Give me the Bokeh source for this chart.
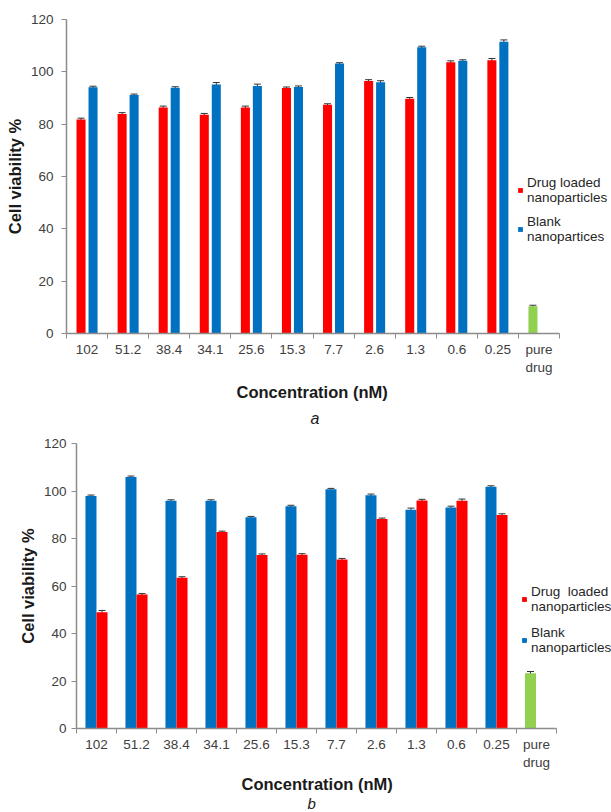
from bokeh.plotting import figure
from bokeh.models import (Range1d, FixedTicker, ColumnDataSource, Whisker, TeeHead,
                          Legend, LegendItem, Title)
from bokeh.embed import file_html
from bokeh.resources import INLINE

# ---------------- data ----------------
categories = ["102", "51.2", "38.4", "34.1", "25.6", "15.3", "7.7", "2.6", "1.3", "0.6", "0.25", "pure\ndrug"]

a_drug = [81.8, 83.9, 86.4, 83.6, 86.4, 93.8, 87.4, 96.5, 89.7, 103.7, 104.4]
a_blank = [94.1, 91.1, 93.9, 95.2, 94.6, 94.2, 103.2, 96.0, 109.4, 104.2, 111.5]
a_pure = [10.4]
a_drug_err = [0.5, 0.5, 0.5, 0.5, 0.5, 0.4, 0.4, 0.5, 0.5, 0.5, 0.7]
a_blank_err = [0.4, 0.4, 0.4, 0.7, 0.7, 0.4, 0.3, 0.6, 0.4, 0.4, 0.7]
a_pure_err = [0.4]

b_blank = [97.9, 105.9, 95.9, 95.9, 88.9, 93.6, 100.7, 98.2, 92.1, 93.1, 101.8]
b_drug = [49.0, 56.4, 63.5, 82.7, 73.1, 73.2, 71.2, 88.2, 96.0, 95.9, 89.9]
b_pure = [23.3]
b_blank_err = [0.4, 0.4, 0.4, 0.4, 0.4, 0.4, 0.4, 0.5, 0.7, 0.5, 0.4]
b_drug_err = [0.7, 0.4, 0.4, 0.4, 0.4, 0.4, 0.4, 0.4, 0.5, 0.7, 0.5]
b_pure_err = [0.7]

y_ticks = [0, 20, 40, 60, 80, 100, 120]

RED = "#FF0000"
BLUE = "#0070C0"
GREEN = "#92D050"
FONT = "Liberation Sans"
AXIS_GRAY = "#8C8C8C"
TICK_TXT = "#404040"
TITLE_COL = "#1A1A1A"
N = len(categories)


def base_fig(height, left, top, bottom, x_end, ylab_standoff, ytick_standoff):
    p = figure(width=611, height=height, output_backend="svg", toolbar_location=None,
               x_range=Range1d(0, x_end), y_range=Range1d(0, 120),
               min_border_left=left, min_border_right=0,
               min_border_top=top, min_border_bottom=bottom,
               outline_line_color=None, background_fill_color="white",
               border_fill_color="white")
    p.grid.visible = False
    centers = [i + 0.5 for i in range(N)]
    bounds = [float(i) for i in range(N + 1)]
    p.xaxis.ticker = FixedTicker(ticks=centers, minor_ticks=bounds)
    p.xaxis.bounds = (0, N)
    p.xaxis.major_label_overrides = {c: lab for c, lab in zip(centers, categories)}
    p.xaxis.major_tick_out = 0
    p.xaxis.major_tick_in = 0
    p.xaxis.minor_tick_out = 5
    p.xaxis.minor_tick_in = 0
    p.xaxis.major_label_standoff = 3
    p.yaxis.ticker = FixedTicker(ticks=y_ticks, minor_ticks=[])
    p.yaxis.major_tick_out = 5
    p.yaxis.major_tick_in = 0
    p.yaxis.major_label_standoff = ytick_standoff
    for ax in (p.xaxis, p.yaxis):
        ax.axis_line_color = AXIS_GRAY
        ax.axis_line_width = 1.5
        ax.major_tick_line_color = AXIS_GRAY
        ax.minor_tick_line_color = AXIS_GRAY
        ax.major_label_text_font = FONT
        ax.major_label_text_font_size = "13.5px"
        ax.major_label_text_color = TICK_TXT
    p.yaxis.axis_label = "Cell viability %"
    p.yaxis.axis_label_text_font = FONT
    p.yaxis.axis_label_text_font_style = "bold"
    p.yaxis.axis_label_text_font_size = "16.5px"
    p.yaxis.axis_label_text_color = TITLE_COL
    p.yaxis.axis_label_standoff = ylab_standoff
    return p


def add_xtitle(p, offset, standoff):
    p.add_layout(Title(text="Concentration (nM)", align="left", offset=offset,
                       standoff=standoff, text_font=FONT, text_font_style="bold",
                       text_font_size="16.5px", text_color=TITLE_COL), "below")


def add_panel_label(p, text, offset, standoff, size):
    p.add_layout(Title(text=text, align="left", offset=offset, standoff=standoff,
                       text_font=FONT, text_font_style="italic", text_font_size=size,
                       text_color=TITLE_COL), "below")


def add_series(p, values, errs, offset, width, color):
    xs = [i + 0.5 + offset for i in range(len(values))]
    src = ColumnDataSource(dict(x=xs, top=values,
                                upper=[v + e for v, e in zip(values, errs)],
                                lower=[v - e for v, e in zip(values, errs)]))
    r = p.vbar(x="x", top="top", width=width, bottom=0, source=src,
               fill_color=color, line_color=None)
    p.add_layout(Whisker(base="x", upper="upper", lower="lower", source=src,
                         line_color="#333333", line_width=1,
                         upper_head=TeeHead(size=7, line_color="#333333", line_width=1),
                         lower_head=None))
    return r


def add_pure(p, value, err, offset, width):
    xs = [N - 0.5 + offset]
    src = ColumnDataSource(dict(x=xs, top=value,
                                upper=[v + e for v, e in zip(value, err)],
                                lower=[v - e for v, e in zip(value, err)]))
    p.vbar(x="x", top="top", width=width, bottom=0, source=src,
           fill_color=GREEN, line_color=None)
    p.add_layout(Whisker(base="x", upper="upper", lower="lower", source=src,
                         line_color="#333333",
                         upper_head=TeeHead(size=7, line_color="#333333"),
                         lower_head=None))


def make_legend(items, x, y, spacing, font_size):
    return Legend(items=items, location=(x, y), padding=0, margin=0, spacing=spacing,
                  glyph_width=6, glyph_height=6, label_standoff=4,
                  label_text_font=FONT, label_text_font_size=font_size,
                  label_text_color="#262626", label_text_line_height=1.2,
                  border_line_color=None, background_fill_alpha=0)


# ---------------- panel a ----------------
# frame: x 66..611 (category axis spans 66..559), y 19..333
pa = base_fig(430, 66, 19, 97, N * 545 / 493, 4, 8)
ra = add_series(pa, a_drug, a_drug_err, -0.146, 0.22, RED)
rb = add_series(pa, a_blank, a_blank_err, 0.146, 0.22, BLUE)
add_pure(pa, a_pure, a_pure_err, -0.146, 0.22)
add_xtitle(pa, 170, 7)
add_panel_label(pa, "a", 244, 6, "16px")
pa.add_layout(make_legend([LegendItem(label="Drug loaded\nnanoparticles", renderers=[ra]),
                           LegendItem(label="Blank\nnanopartices", renderers=[rb])],
                          451, 89, 9, "13.5px"))

# ---------------- panel b ----------------
# frame: x 76..611 (category axis spans 76..556), y 13..300 of this figure
pb = base_fig(382, 76, 13, 82, N * 535 / 480, 4, 5)
rb2 = add_series(pb, b_blank, b_blank_err, -0.138, 0.275, BLUE)
rd2 = add_series(pb, b_drug, b_drug_err, 0.138, 0.275, RED)
add_pure(pb, b_pure, b_pure_err, -0.15, 0.275)
add_xtitle(pb, 165, 0)
add_panel_label(pb, "b", 231, 1, "15px")
pb.add_layout(make_legend([LegendItem(label="Drug  loaded\nnanoparticles", renderers=[rd2]),
                           LegendItem(label="Blank\nnanoparticles", renderers=[rb2])],
                          445, 73, 11, "13.5px"))

open("out.html", "w").write(file_html([pa, pb], INLINE))
